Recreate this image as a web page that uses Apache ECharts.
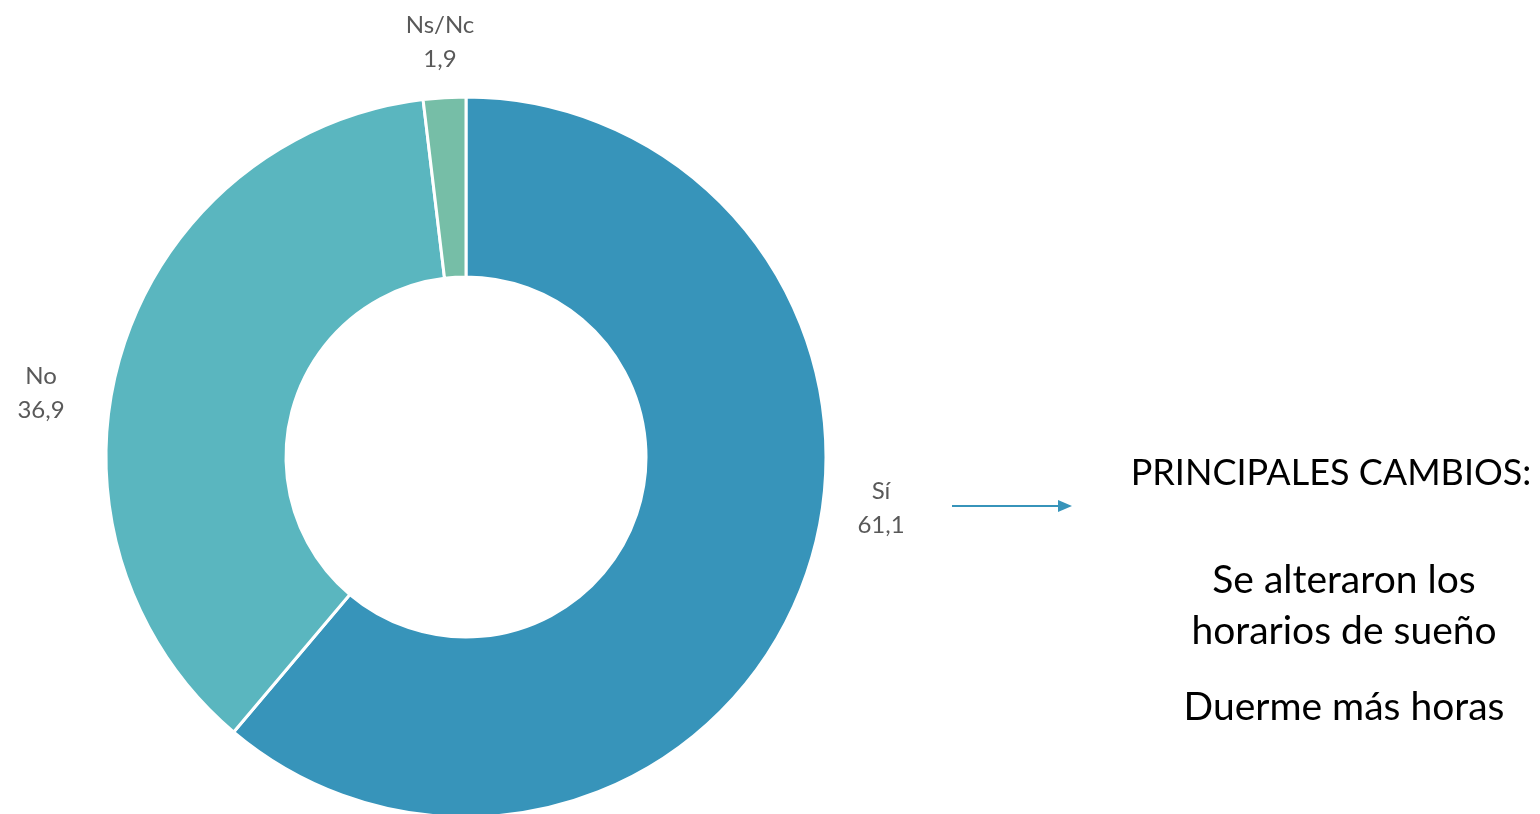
<!DOCTYPE html>
<html><head><meta charset="utf-8">
<script src="https://cdn.jsdelivr.net/npm/echarts@6/dist/echarts.min.js"></script>
<style>html,body{margin:0;padding:0;background:#fff}#c{width:1540px;height:814px}</style>
</head><body><div id="c"></div>
<script>
const categories = ['Sí', 'No', 'Ns/Nc'];
const values = [61.1, 36.9, 1.9];
const colors = ['#3794BA', '#5AB6BF', '#76BEA7'];
const sideTitle = 'PRINCIPALES CAMBIOS:';
const sideItems = ['Se alteraron los', 'horarios de sueño', 'Duerme más horas'];

const fmt = v => v.toFixed(1).replace('.', ',');
const labelPos = [[881, 508], [41, 393], [440, 42]];

const chart = echarts.init(document.getElementById('c'), null, {renderer: 'canvas'});
const FONT = 'Lato, "Open Sans", sans-serif';
chart.setOption({
  animation: false,
  series: [{
    type: 'pie',
    center: [466, 457],
    radius: [180, 360],
    startAngle: 90,
    clockwise: true,
    data: categories.map((c, i) => ({name: c, value: values[i], itemStyle: {color: colors[i]}})),
    itemStyle: {borderColor: '#fff', borderWidth: 3},
    label: {
      show: true, position: 'outside',
      formatter: p => p.name + '\n' + fmt(p.value),
      color: '#595959', fontSize: 24, lineHeight: 34, fontFamily: FONT, align: 'center'
    },
    labelLine: {show: false},
    labelLayout: p => ({x: labelPos[p.dataIndex][0], y: labelPos[p.dataIndex][1], align: 'center', verticalAlign: 'middle'}),
    emphasis: {disabled: true}
  }],
  graphic: [
    {type: 'line', shape: {x1: 952, y1: 506, x2: 1062, y2: 506}, style: {stroke: '#3794BA', lineWidth: 2}},
    {type: 'polygon', shape: {points: [[1072, 506], [1058, 500], [1058, 512]]}, style: {fill: '#3794BA'}},
    {type: 'text', x: 1331, y: 473, style: {text: sideTitle, fontSize: 36, fontFamily: FONT, fill: '#000', align: 'center', verticalAlign: 'middle'}},
    {type: 'text', x: 1344, y: 580, style: {text: sideItems[0], fontSize: 39, fontFamily: FONT, fill: '#000', align: 'center', verticalAlign: 'middle'}},
    {type: 'text', x: 1344, y: 631, style: {text: sideItems[1], fontSize: 39, fontFamily: FONT, fill: '#000', align: 'center', verticalAlign: 'middle'}},
    {type: 'text', x: 1344, y: 707, style: {text: sideItems[2], fontSize: 39, fontFamily: FONT, fill: '#000', align: 'center', verticalAlign: 'middle'}}
  ]
});
</script></body></html>
